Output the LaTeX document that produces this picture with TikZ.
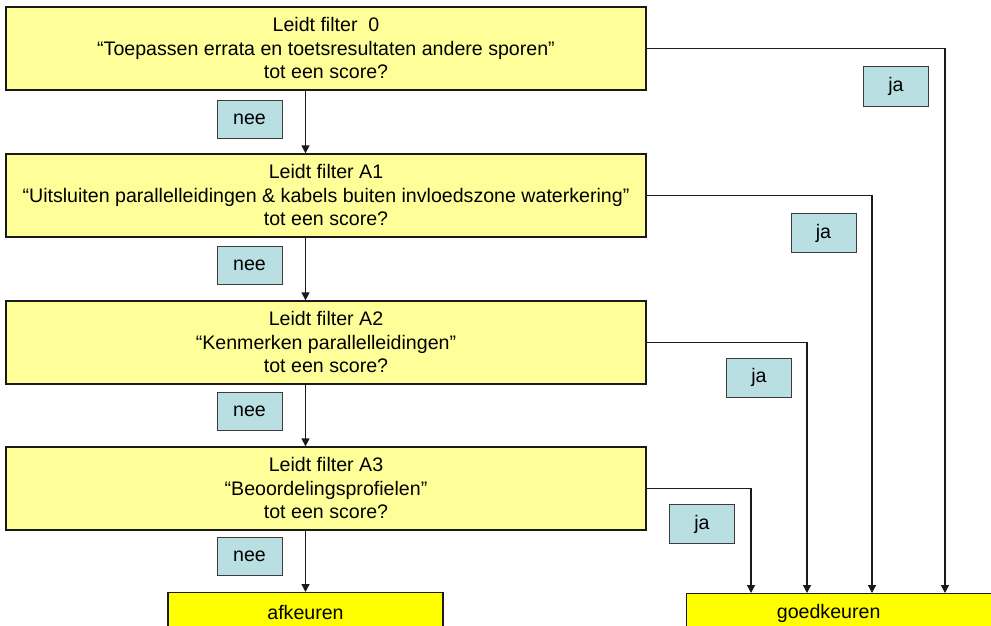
\documentclass[tikz,border=0pt]{standalone}
\usepackage{fontspec}
\setmainfont{Liberation Sans}
\usetikzlibrary{arrows.meta}
\definecolor{filtfill}{HTML}{FFFF99}
\definecolor{lblfill}{HTML}{B9DFE3}
\definecolor{endfill}{HTML}{FFFF00}
\definecolor{edge}{HTML}{1A1A1A}
\newcommand\droptext[1]{\raisebox{-2pt}[\height][\depth]{\begin{tabular}{@{}c@{}}#1\end{tabular}}}
\begin{document}
\begin{tikzpicture}[x=1pt,y=-1pt,
  txt/.style={font=\fontsize{19.6}{23.5}\selectfont},
  filt/.style={txt, draw=edge, line width=1.3pt, fill=filtfill,
    inner sep=0pt, minimum width=640pt, minimum height=83pt},
  lbl/.style={txt, draw=edge!85, line width=1pt, fill=lblfill, inner sep=0pt,
    minimum width=65pt, minimum height=38pt},
  endbox/.style={txt, draw=edge, line width=1.3pt, fill=endfill, inner sep=0pt,
    minimum height=40pt},
  arr/.style={draw=edge, line width=1.3pt, -{Triangle[width=8pt,length=8pt]}}]
\useasboundingbox (0,0) rectangle (991,626);

\node[filt] (f0) at (326,48.5) {\droptext{Leidt filter\ \ 0\\“Toepassen errata en toetsresultaten andere sporen”\\tot een score?}};
\node[filt] (f1) at (326,195.5) {\droptext{Leidt filter A1\\“Uitsluiten parallelleidingen \& kabels buiten invloedszone waterkering”\\tot een score?}};
\node[filt] (f2) at (326,342.5) {\droptext{Leidt filter A2\\“Kenmerken parallelleidingen”\\tot een score?}};
\node[filt] (f3) at (326,488.5) {\droptext{Leidt filter A3\\“Beoordelingsprofielen”\\tot een score?}};

\node[endbox, anchor=north, minimum width=275pt] (afk) at (305.5,592) {afkeuren};
\node[endbox, anchor=north west, minimum width=320pt] (goed) at (686,593) {\hspace*{-36pt}goedkeuren};

\draw[arr] (f0.south -| afk.north) -- (f1.north -| afk.north);
\draw[arr] (f1.south -| afk.north) -- (f2.north -| afk.north);
\draw[arr] (f2.south -| afk.north) -- (f3.north -| afk.north);
\draw[arr] (f3.south -| afk.north) -- (afk.north);

\coordinate (g0) at (945,593);
\coordinate (g1) at (872,593);
\coordinate (g2) at (807,593);
\coordinate (g3) at (751,593);
\draw[arr] (f0.east) -| (g0);
\draw[arr] (f1.east) -| (g1);
\draw[arr] (f2.east) -| (g2);
\draw[arr] (f3.east) -| (g3);

\node[lbl] (n0) at (249.5,119) {nee};
\node[lbl] (n1) at (249.5,265) {nee};
\node[lbl] (n2) at (249.5,411) {nee};
\node[lbl] (n3) at (249.5,556.5) {nee};

\node[lbl, minimum height=39pt] (j0) at (896,86.5) {ja};
\node[lbl, minimum height=39pt] (j1) at (823.5,233) {ja};
\node[lbl, minimum height=39pt] (j2) at (759,377.5) {ja};
\node[lbl, minimum height=39pt] (j3) at (702,524) {ja};
\end{tikzpicture}
\end{document}
